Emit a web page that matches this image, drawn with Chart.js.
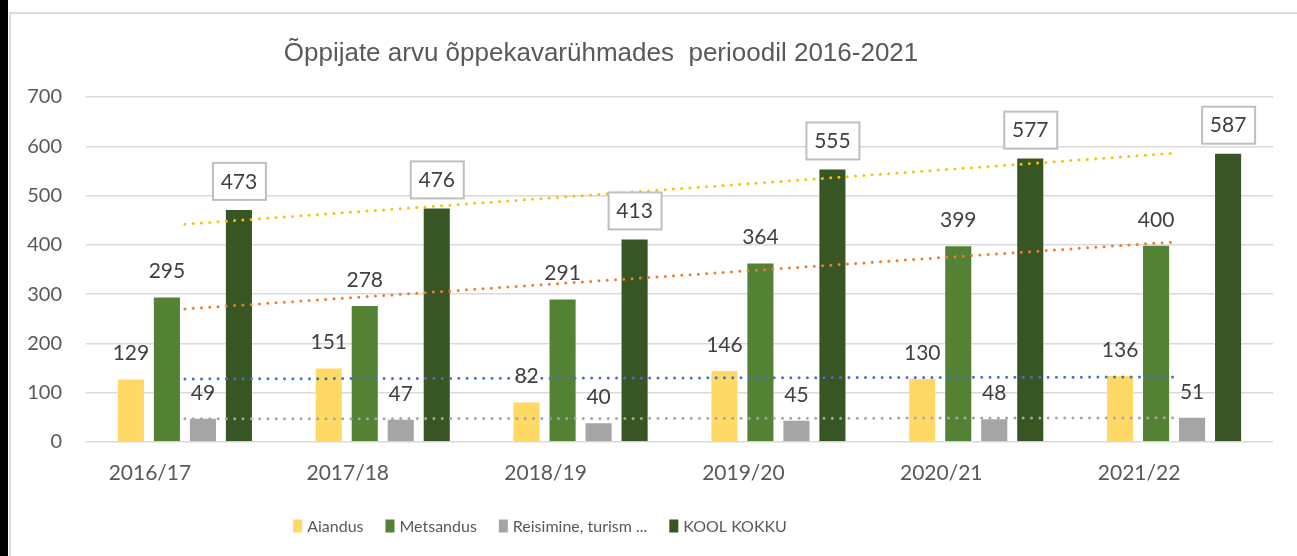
<!DOCTYPE html>
<html>
<head>
<meta charset="utf-8">
<script src="https://cdn.jsdelivr.net/npm/chart.js@4"></script>
<style>
  body { margin: 0; background: #fff; }
  #wrap { position: relative; width: 1297px; height: 556px; overflow: hidden; }
  #strip { position: absolute; left: 0; top: 0; width: 8px; height: 556px; background: #000; }
  #frame { position: absolute; left: 9px; top: 12px; width: 1300px; height: 560px;
           border-left: 2px solid #d9d9d9; border-top: 2px solid #d9d9d9; }
  #myChart { position: absolute; left: 0; top: 0; }
</style>
</head>
<body>
<div id="wrap">
  <div id="strip"></div>
  <div id="frame"></div>
  <canvas id="myChart" width="1297" height="556"></canvas>
</div>
<script>
const titleText = 'Õppijate arvu õppekavarühmades  perioodil 2016-2021';
const years = ['2016/17', '2017/18', '2018/19', '2019/20', '2020/21', '2021/22'];
const aiandus = [129, 151, 82, 146, 130, 136];
const metsandus = [295, 278, 291, 364, 399, 400];
const reisimine = [49, 47, 40, 45, 48, 51];
const koolKokku = [473, 476, 413, 555, 577, 587];
// trendline end points (first and last category)
const koolTrend = [442, null, null, null, null, 586];
const metsTrend = [270, null, null, null, null, 406];
const aiaTrend = [128, null, null, null, null, 132];
const reisTrend = [47, null, null, null, null, 49];

const labelFont = '21px Lato, "Open Sans", sans-serif';

const trend = (data, color) => ({
  type: 'line',
  data: data,
  borderColor: color,
  borderWidth: 3,
  borderDash: [0, 8.3],
  borderCapStyle: 'round',
  pointRadius: 0,
  spanGaps: true,
  fill: false,
  order: 0,
  isTrend: true
});

const bar = (label, data, color, boxed) => ({
  type: 'bar',
  label: label,
  data: data,
  backgroundColor: color,
  borderColor: 'rgba(255,255,255,0.35)',
  borderWidth: 1,
  categoryPercentage: 0.728,
  barPercentage: 0.78,
  order: 1,
  boxed: boxed
});

const valueLabels = {
  id: 'valueLabels',
  afterDatasetsDraw(chart) {
    const ctx = chart.ctx;
    ctx.save();
    ctx.font = labelFont;
    ctx.textAlign = 'center';
    ctx.textBaseline = 'middle';
    chart.data.datasets.forEach((ds, i) => {
      if (ds.isTrend) return;
      const meta = chart.getDatasetMeta(i);
      meta.data.forEach((el, j) => {
        const x = el.x;
        if (ds.boxed) {
          const y = el.y - 28;
          ctx.fillStyle = '#fff';
          ctx.fillRect(x - 26, y - 18, 53, 37);
          ctx.strokeStyle = '#bfbfbf';
          ctx.lineWidth = 2;
          ctx.strokeRect(x - 26, y - 18, 53, 37);
          ctx.fillStyle = '#404040';
          ctx.fillText(ds.data[j], x, y + 1);
        } else {
          ctx.fillStyle = '#404040';
          ctx.fillText(ds.data[j], x, el.y - 25);
        }
      });
    });
    ctx.restore();
  }
};

const titleAndLegend = {
  id: 'titleAndLegend',
  afterDraw(chart) {
    const ctx = chart.ctx;
    ctx.save();
    ctx.fillStyle = '#595959';
    ctx.font = '26px "Liberation Sans", Arial, sans-serif';
    ctx.textAlign = 'center';
    ctx.textBaseline = 'middle';
    ctx.fillText(titleText, 601, 54);

    // legend
    ctx.font = '16px Lato, sans-serif';
    ctx.textAlign = 'left';
    const items = chart.data.datasets.filter(d => !d.isTrend);
    const boxW = 9, gapIn = 5, gapOut = 22;
    let total = 0;
    items.forEach((d, k) => {
      total += boxW + gapIn + ctx.measureText(d.label).width + (k < items.length - 1 ? gapOut : 0);
    });
    let x = 540 - total / 2;
    const y = 526;
    items.forEach(d => {
      ctx.fillStyle = d.backgroundColor;
      ctx.fillRect(x, y - 6.5, boxW, 13);
      x += boxW + gapIn;
      ctx.fillStyle = '#595959';
      ctx.fillText(d.label, x, y + 1);
      x += ctx.measureText(d.label).width + gapOut;
    });
    ctx.restore();
  }
};

const data = {
  labels: years,
  datasets: [
    bar('Aiandus', aiandus, '#ffd966', false),
    bar('Metsandus', metsandus, '#548235', false),
    bar('Reisimine, turism ...', reisimine, '#a5a5a5', false),
    bar('KOOL KOKKU', koolKokku, '#375623', true),
    trend(koolTrend, '#ffc000'),
    trend(metsTrend, '#ed7d31'),
    trend(aiaTrend, '#4472c4'),
    trend(reisTrend, '#a5a5a5')
  ]
};

const config = {
  type: 'bar',
  data: data,
  options: {
    responsive: false,
    animation: false,
    devicePixelRatio: 1,
    layout: { padding: { top: 97, right: 24, left: 0, bottom: 0 } },
    plugins: {
      legend: { display: false },
      title: { display: false },
      tooltip: { enabled: false }
    },
    scales: {
      x: {
        grid: { display: false, drawTicks: false },
        border: { display: false },
        ticks: {
          color: '#595959',
          font: { family: 'Lato, "Open Sans", sans-serif', size: 21 },
          padding: 19,
          labelOffset: -35,
          maxRotation: 0
        },
        afterFit: s => { s.height = 114; }
      },
      y: {
        min: 0,
        max: 700,
        ticks: {
          stepSize: 100,
          color: '#595959',
          font: { family: 'Lato, "Open Sans", sans-serif', size: 20 },
          padding: 24
        },
        grid: { color: '#d9d9d9', lineWidth: 1.5, drawTicks: false },
        border: { display: false },
        afterFit: s => { s.width = 86; }
      }
    }
  },
  plugins: [valueLabels, titleAndLegend]
};

const ctx = document.getElementById('myChart').getContext('2d');
const chartItem = Chart.getChart('myChart');
if (chartItem) chartItem.destroy();
const chart = new Chart(ctx, config);
</script>
</body>
</html>
